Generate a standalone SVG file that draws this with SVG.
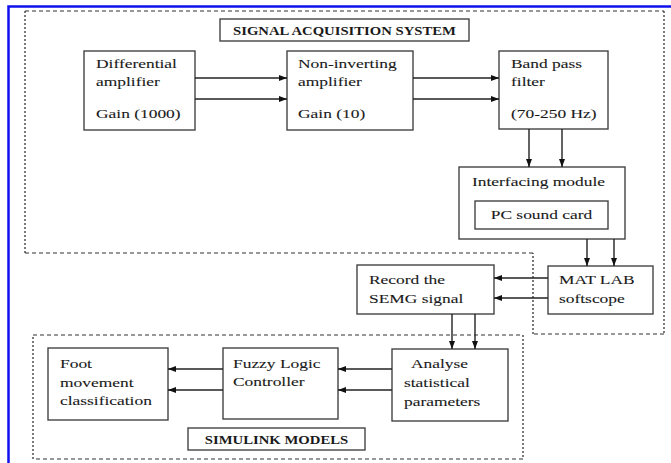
<svg xmlns="http://www.w3.org/2000/svg" width="671" height="463" viewBox="0 0 671 463">
<defs>
<marker id="ah" markerWidth="8" markerHeight="6" refX="8" refY="3" orient="auto" markerUnits="userSpaceOnUse">
<path d="M0,0 L8,3 L0,6 Z" fill="#111"/>
</marker>
<style>
.box{fill:#fff;stroke:#444;stroke-width:1.4}
.reg{fill:none;stroke:#333;stroke-width:1.2;stroke-dasharray:4,3}
.regv{fill:none;stroke:#333;stroke-width:1.3;stroke-dasharray:2,2}
.t{font-family:"Liberation Serif",serif;font-size:13.5px;fill:#1a1a1a;stroke:#1a1a1a;stroke-width:0.1}
.h{font-family:"Liberation Serif",serif;font-size:11.5px;font-weight:bold;fill:#1a1a1a}
.c{stroke:#222;stroke-width:1.4;fill:none;marker-end:url(#ah)}
</style>
</defs>
<rect width="671" height="463" fill="#fff"/>
<path d="M8.5,463 V6.5 H671" fill="none" stroke="#1010ee" stroke-width="2.5"/>
<g id="regions">
<path class="reg" d="M25,11 H664 M664,334 H533 M533,253 H25"/>
<path class="regv" d="M664,11 V334 M533,334 V253 M25,253 V11"/>
<path class="reg" d="M33,335 H523 M523,459 H33"/>
<path class="regv" d="M523,335 V459 M33,459 V335"/>
</g>
<g id="title-acq">
<rect class="box" x="220" y="19" width="249" height="22"/>
<text class="h" text-anchor="middle" transform="translate(344.5 34.5) scale(1.28 1)">SIGNAL ACQUISITION SYSTEM</text>
</g>
<g id="diff">
<rect class="box" x="84" y="51" width="111" height="79"/>
<text class="t" transform="translate(96 68) scale(1.29 1)">Differential</text>
<text class="t" transform="translate(96 86) scale(1.29 1)">amplifier</text>
<text class="t" transform="translate(96 118) scale(1.29 1)">Gain (1000)</text>
</g>
<g id="noninv">
<rect class="box" x="287" y="51" width="126" height="79"/>
<text class="t" transform="translate(298 68) scale(1.29 1)">Non-inverting</text>
<text class="t" transform="translate(298 86) scale(1.29 1)">amplifier</text>
<text class="t" transform="translate(298 118) scale(1.29 1)">Gain (10)</text>
</g>
<g id="bandpass">
<rect class="box" x="499" y="51" width="109" height="78"/>
<text class="t" transform="translate(511 68) scale(1.29 1)">Band pass</text>
<text class="t" transform="translate(511 86) scale(1.29 1)">filter</text>
<text class="t" transform="translate(511 118) scale(1.29 1)">(70-250 Hz)</text>
</g>
<g id="interfacing">
<rect class="box" x="459" y="167" width="166" height="72"/>
<text class="t" transform="translate(472 186) scale(1.29 1)">Interfacing module</text>
<rect class="box" x="475" y="201" width="133" height="28"/>
<text class="t" text-anchor="middle" transform="translate(541.5 219) scale(1.29 1)">PC sound card</text>
</g>
<g id="matlab">
<rect class="box" x="548" y="266" width="105" height="48"/>
<text class="t" transform="translate(559 284) scale(1.29 1)">MAT LAB</text>
<text class="t" transform="translate(559 303) scale(1.29 1)">softscope</text>
</g>
<g id="record">
<rect class="box" x="357" y="265" width="137" height="49"/>
<text class="t" transform="translate(369 284) scale(1.29 1)">Record the</text>
<text class="t" transform="translate(369 303) scale(1.29 1)">SEMG signal</text>
</g>
<g id="analyse">
<rect class="box" x="392" y="349" width="116" height="72"/>
<text class="t" transform="translate(411 368) scale(1.29 1)">Analyse</text>
<text class="t" transform="translate(404 387) scale(1.29 1)">statistical</text>
<text class="t" transform="translate(404 406) scale(1.29 1)">parameters</text>
</g>
<g id="fuzzy">
<rect class="box" x="223" y="348" width="115" height="71"/>
<text class="t" transform="translate(233 368) scale(1.29 1)">Fuzzy Logic</text>
<text class="t" transform="translate(233 386) scale(1.29 1)">Controller</text>
</g>
<g id="foot">
<rect class="box" x="48" y="348" width="120" height="72"/>
<text class="t" transform="translate(60 368) scale(1.29 1)">Foot</text>
<text class="t" transform="translate(60 387) scale(1.29 1)">movement</text>
<text class="t" transform="translate(60 405) scale(1.29 1)">classification</text>
</g>
<g id="title-sim">
<rect class="box" x="188" y="428" width="177" height="22"/>
<text class="h" text-anchor="middle" transform="translate(276.5 444) scale(1.28 1)">SIMULINK MODELS</text>
</g>
<g id="connectors">
<line class="c" x1="195" y1="78" x2="287" y2="78"/>
<line class="c" x1="195" y1="99" x2="287" y2="99"/>
<line class="c" x1="413" y1="78" x2="499" y2="78"/>
<line class="c" x1="413" y1="99" x2="499" y2="99"/>
<line class="c" x1="529" y1="129" x2="529" y2="167"/>
<line class="c" x1="562" y1="129" x2="562" y2="167"/>
<line class="c" x1="587" y1="239" x2="587" y2="266"/>
<line class="c" x1="614" y1="239" x2="614" y2="266"/>
<line class="c" x1="548" y1="278" x2="494" y2="278"/>
<line class="c" x1="548" y1="298" x2="494" y2="298"/>
<line class="c" x1="452" y1="314" x2="452" y2="349"/>
<line class="c" x1="475" y1="314" x2="475" y2="349"/>
<line class="c" x1="392" y1="369" x2="338" y2="369"/>
<line class="c" x1="392" y1="390" x2="338" y2="390"/>
<line class="c" x1="223" y1="369" x2="168" y2="369"/>
<line class="c" x1="223" y1="390" x2="168" y2="390"/>
</g>
</svg>
